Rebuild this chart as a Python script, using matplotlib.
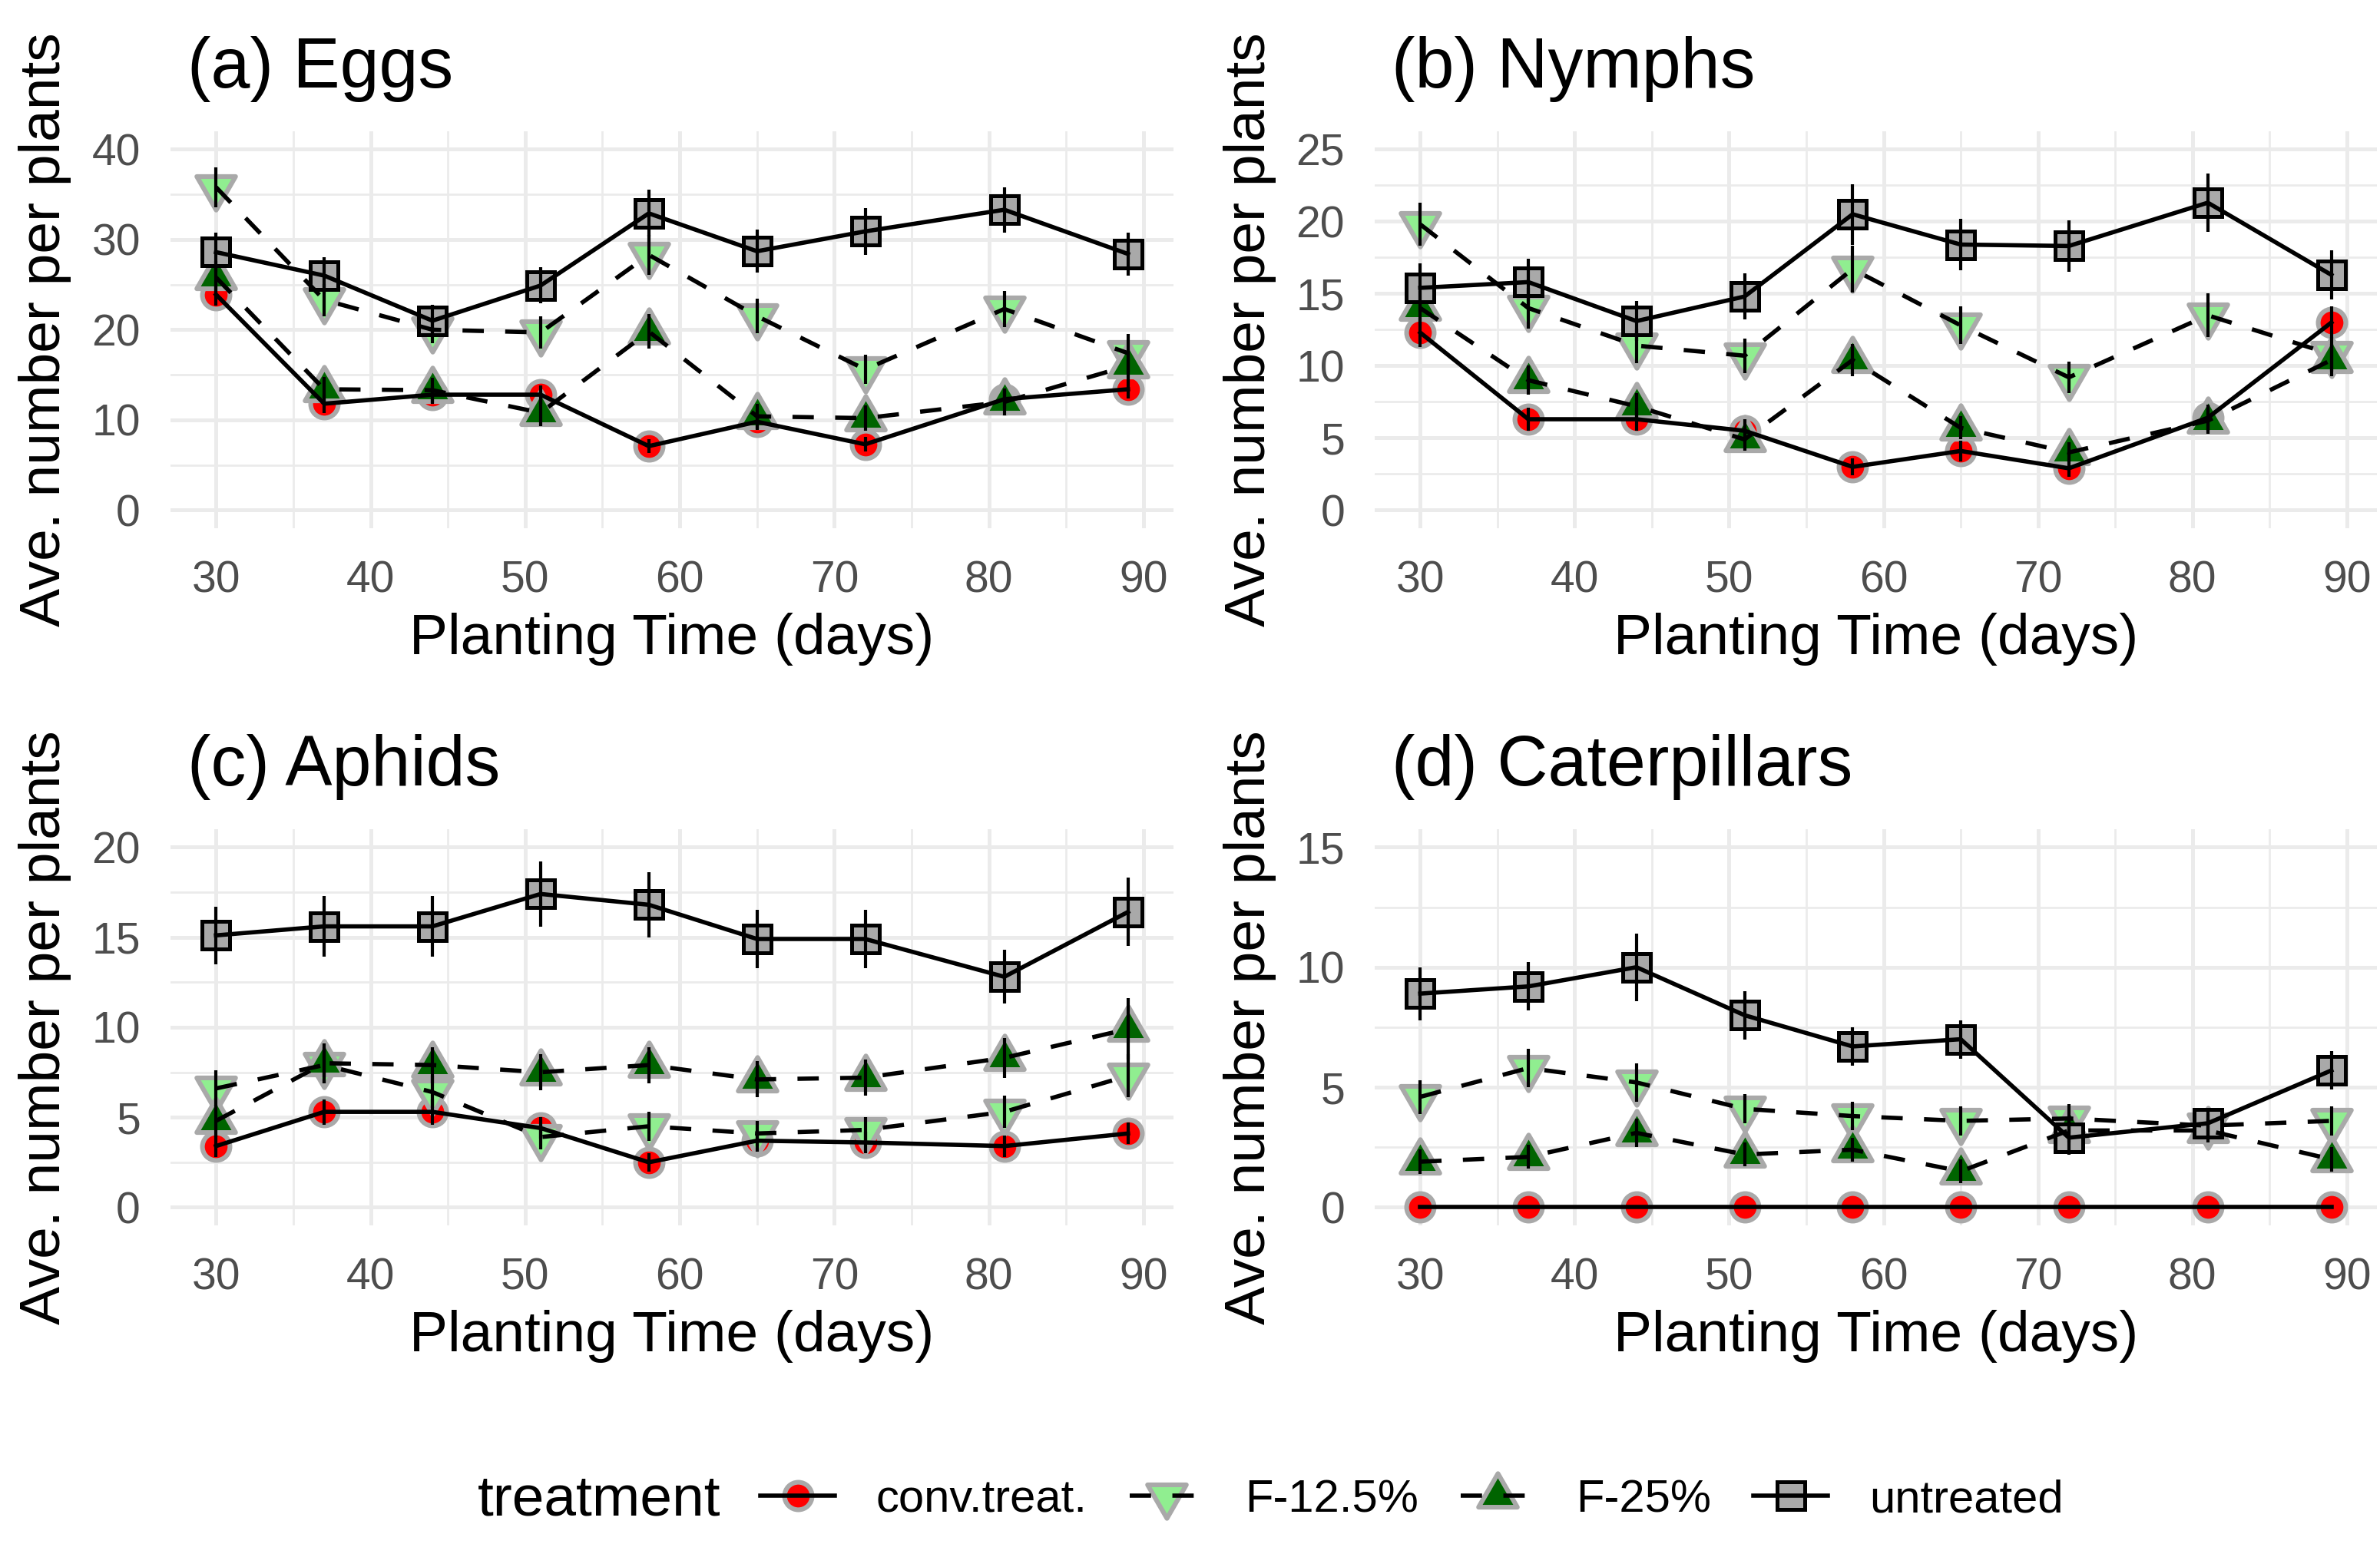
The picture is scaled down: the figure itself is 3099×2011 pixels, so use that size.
import matplotlib
matplotlib.use('Agg')
import matplotlib.pyplot as plt
from matplotlib.lines import Line2D
from matplotlib.path import Path
from matplotlib.ticker import MultipleLocator
from matplotlib.legend_handler import HandlerTuple

plt.rcParams['font.family'] = 'Liberation Sans'

days = [30, 37, 44, 51, 58, 65, 72, 81, 89]
treatments = ['conv.treat.', 'F-12.5%', 'F-25%', 'untreated']

# (a) Eggs
eggs_conv = [23.9, 11.8, 12.8, 12.8, 7.1, 9.8, 7.3, 12.3, 13.4]
eggs_f125 = [35.8, 23.3, 20.0, 19.7, 28.3, 21.5, 15.6, 22.3, 17.4]
eggs_f25 = [25.8, 13.4, 13.3, 10.8, 19.8, 10.4, 10.2, 12.0, 16.0]
eggs_untr = [28.6, 26.0, 21.0, 24.9, 32.9, 28.7, 30.9, 33.3, 28.4]
eggs_conv_se = [1.2, 1.0, 1.0, 1.0, 0.8, 0.9, 0.8, 1.0, 1.0]
eggs_f125_se = [2.2, 1.8, 1.5, 1.8, 2.2, 1.9, 1.6, 2.0, 2.1]
eggs_f25_se = [1.8, 1.4, 1.4, 1.5, 1.9, 1.4, 1.4, 1.5, 1.6]
eggs_untr_se = [2.2, 2.0, 1.8, 2.0, 2.6, 2.4, 2.6, 2.5, 2.4]

# (b) Nymphs
nymph_conv = [12.3, 6.3, 6.3, 5.5, 3.0, 4.1, 2.9, 6.4, 13.0]
nymph_f125 = [19.8, 14.0, 11.4, 10.7, 16.7, 12.8, 9.2, 13.5, 10.8]
nymph_f25 = [14.0, 9.0, 7.2, 4.9, 10.4, 5.7, 4.0, 6.2, 10.4]
nymph_untr = [15.4, 15.8, 13.1, 14.8, 20.5, 18.4, 18.3, 21.3, 16.3]
nymph_conv_se = [1.0, 0.8, 0.8, 0.8, 0.6, 0.7, 0.6, 0.9, 1.1]
nymph_f125_se = [1.5, 1.4, 1.2, 1.2, 1.6, 1.3, 1.1, 1.5, 1.2]
nymph_f25_se = [1.2, 1.0, 0.9, 0.8, 1.1, 0.8, 0.7, 0.9, 1.1]
nymph_untr_se = [1.7, 1.6, 1.4, 1.6, 2.1, 1.8, 1.8, 2.0, 1.7]

# (c) Aphids
aphid_conv = [3.4, 5.3, 5.3, 4.4, 2.5, 3.7, 3.6, 3.4, 4.1]
aphid_f125 = [6.6, 7.9, 6.4, 3.9, 4.5, 4.1, 4.3, 5.3, 7.3]
aphid_f25 = [4.8, 8.0, 7.9, 7.5, 7.9, 7.1, 7.2, 8.3, 9.9]
aphid_untr = [15.1, 15.6, 15.6, 17.4, 16.8, 14.9, 14.9, 12.8, 16.4]
aphid_conv_se = [0.6, 0.7, 0.7, 0.6, 0.5, 0.6, 0.6, 0.6, 0.6]
aphid_f125_se = [1.0, 1.0, 0.9, 0.7, 0.8, 0.7, 0.7, 0.9, 1.2]
aphid_f25_se = [0.9, 1.1, 1.0, 1.0, 1.0, 1.0, 1.0, 1.1, 1.7]
aphid_untr_se = [1.6, 1.7, 1.7, 1.8, 1.8, 1.6, 1.6, 1.5, 1.9]

# (d) Caterpillars
cater_conv = [0, 0, 0, 0, 0, 0, 0, 0, 0]
cater_f125 = [4.6, 5.8, 5.2, 4.1, 3.8, 3.6, 3.7, 3.4, 3.6]
cater_f25 = [1.9, 2.1, 3.1, 2.2, 2.4, 1.5, 3.2, 3.2, 2.0]
cater_untr = [8.9, 9.2, 10.0, 8.0, 6.7, 7.0, 2.9, 3.5, 5.7]
cater_conv_se = [0, 0, 0, 0, 0, 0, 0, 0, 0]
cater_f125_se = [0.7, 0.8, 0.8, 0.6, 0.6, 0.6, 0.6, 0.5, 0.6]
cater_f25_se = [0.5, 0.5, 0.6, 0.5, 0.5, 0.5, 0.5, 0.5, 0.5]
cater_untr_se = [1.1, 1.0, 1.4, 1.0, 0.8, 0.8, 0.7, 0.6, 0.8]

panels = [
    ('(a) Eggs', [eggs_conv, eggs_f125, eggs_f25, eggs_untr],
     [eggs_conv_se, eggs_f125_se, eggs_f25_se, eggs_untr_se], 40, 10),
    ('(b) Nymphs', [nymph_conv, nymph_f125, nymph_f25, nymph_untr],
     [nymph_conv_se, nymph_f125_se, nymph_f25_se, nymph_untr_se], 25, 5),
    ('(c) Aphids', [aphid_conv, aphid_f125, aphid_f25, aphid_untr],
     [aphid_conv_se, aphid_f125_se, aphid_f25_se, aphid_untr_se], 20, 5),
    ('(d) Caterpillars', [cater_conv, cater_f125, cater_f25, cater_untr],
     [cater_conv_se, cater_f125_se, cater_f25_se, cater_untr_se], 15, 5),
]

# equilateral triangles centred on the centroid, like ggplot shapes 24/25
tri_up = Path([(-1, -0.577), (1, -0.577), (0, 1.155), (-1, -0.577)],
              [Path.MOVETO, Path.LINETO, Path.LINETO, Path.CLOSEPOLY])
tri_down = Path([(-1, 0.577), (1, 0.577), (0, -1.155), (-1, 0.577)],
                [Path.MOVETO, Path.LINETO, Path.LINETO, Path.CLOSEPOLY])

LW = 2.0
dash = (0, (5, 5))
styles = [
    dict(marker='o', ms=12.9, mfc='#FF0000', mec='#A9A9A9', mew=2.2, ls='-'),
    dict(marker=tri_down, ms=21, mfc='#90EE90', mec='#A9A9A9', mew=2.2, ls=dash),
    dict(marker=tri_up, ms=21, mfc='#006400', mec='#A9A9A9', mew=2.2, ls=dash),
    dict(marker='s', ms=13.3, mfc='#A9A9A9', mec='black', mew=1.8, ls='-'),
]

fig = plt.figure(figsize=(15.495, 10.055), dpi=200)
positions = [
    [0.0716, 0.6579, 0.4215, 0.2571],
    [0.5776, 0.6579, 0.4211, 0.2571],
    [0.0716, 0.2064, 0.4215, 0.2566],
    [0.5776, 0.2064, 0.4211, 0.2566],
]

for pos, (title, means, ses, ymax, ystep) in zip(positions, panels):
    ax = fig.add_axes(pos)
    for vals, err, st in zip(means, ses, styles):
        ax.plot(days, vals, linestyle='none', marker=st['marker'], ms=st['ms'],
                mfc=st['mfc'], mec=st['mec'], mew=st['mew'], zorder=2)
    for vals, err, st in zip(means, ses, styles):
        ax.plot(days, vals, color='black', lw=LW, linestyle=st['ls'], zorder=3)
        ax.errorbar(days, vals, yerr=err, fmt='none', ecolor='black',
                    elinewidth=1.5, capsize=0, zorder=4)

    ax.set_xlim(27.05, 91.95)
    ax.set_ylim(-0.05 * ymax, 1.05 * ymax)
    ax.set_xticks(range(30, 91, 10))
    ax.set_yticks(range(0, ymax + 1, ystep))
    ax.xaxis.set_minor_locator(MultipleLocator(5))
    ax.yaxis.set_minor_locator(MultipleLocator(ystep / 2))
    ax.grid(which='major', color='#EBEBEB', lw=1.8)
    ax.grid(which='minor', color='#EBEBEB', lw=1.0)
    ax.set_axisbelow(True)
    for s in ax.spines.values():
        s.set_visible(False)
    ax.tick_params(which='both', length=0)
    ax.tick_params(axis='y', labelsize=20.5, labelcolor='#4D4D4D', pad=14)
    ax.tick_params(axis='x', labelsize=20.5, labelcolor='#4D4D4D', pad=15)

    ax.set_xlabel('Planting Time (days)', fontsize=27, va='center')
    ax.xaxis.set_label_coords(0.5, -0.28)
    ax.set_ylabel('Ave. number per plants', fontsize=27, va='center')
    ax.yaxis.set_label_coords(-0.1248, 0.5)
    ax.text(0.017, 1.11, title, transform=ax.transAxes, fontsize=33,
            va='baseline', ha='left')

handles = []
for st in styles:
    mk = Line2D([], [], linestyle='none', marker=st['marker'], ms=st['ms'],
                mfc=st['mfc'], mec=st['mec'], mew=st['mew'])
    ln = Line2D([], [], color='black', lw=LW, linestyle=st['ls'])
    handles.append((mk, ln))

fig.text(0.2007, 0.0285, 'treatment', fontsize=27, va='center', ha='left')
fig.legend(handles, treatments, loc='center left', bbox_to_anchor=(0.3195, 0.0285),
           ncol=4, frameon=False, fontsize=21.5, handlelength=1.62,
           handletextpad=0.9, columnspacing=0.92, borderpad=0, borderaxespad=0,
           handler_map={tuple: HandlerTuple(ndivide=1)})

fig.savefig('out.png', dpi=200, facecolor='white')
